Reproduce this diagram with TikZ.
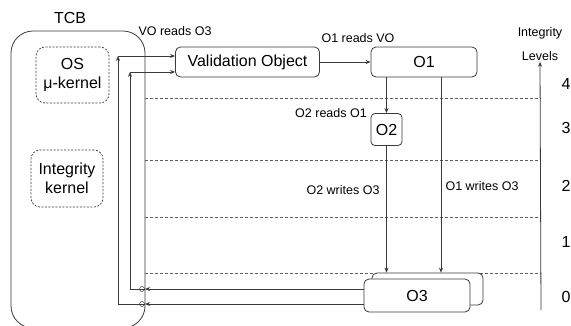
\documentclass[tikz,border=0pt]{standalone}
\usepackage{fontspec}
\setmainfont{Liberation Sans}
\usetikzlibrary{arrows.meta}
\definecolor{ln}{HTML}{3A3A3A}
\definecolor{dl}{HTML}{606060}
\begin{document}
\begin{tikzpicture}[x=1pt,y=-1pt,
  arr/.style={draw=ln,line width=0.8pt,-{Stealth[length=5pt,width=4pt]}},
  ln/.style={draw=ln,line width=0.8pt},
  obox/.style={draw=ln,line width=0.8pt,rounded corners=5pt,fill=white,inner sep=0pt,font=\fontsize{16}{18}\selectfont},
  kbox/.style={draw=ln,line width=0.7pt,dash pattern=on 2pt off 1.5pt,rounded corners=9pt,inner sep=0pt,align=center,font=\fontsize{16}{19}\selectfont},
  lab/.style={inner sep=1pt,font=\fontsize{12.5}{14}\selectfont},
  lvl/.style={inner sep=0pt,font=\fontsize{16}{18}\selectfont},
  lvline/.style={draw=dl,line width=0.6pt,dash pattern=on 3pt off 2pt}]
\useasboundingbox (0,0) rectangle (571,325);
\clip (0,0) rectangle (571,325);
% TCB
\draw[ln,rounded corners=22pt] (11,31) rectangle (145,328);
\node[inner sep=0pt,font=\fontsize{16}{18}\selectfont] (tcb) at (70,18) {TCB};
\node[kbox,minimum width=73pt,minimum height=56pt] (os) at (72.5,75) {OS\\μ-kernel};
\node[kbox,minimum width=72pt,minimum height=57pt] (ik) at (67,178.5) {Integrity\\kernel};
% level lines
\foreach \yy/\nm in {98/l4,160/l3,217/l2,273/l1}{
  \coordinate (\nm a) at (145,\yy);
  \coordinate (\nm b) at (541,\yy);
  \draw[lvline] (\nm a) -- (\nm b);
}
% objects
\node[obox,minimum width=144pt,minimum height=30pt] (vo) at (247.5,62) {Validation Object};
\node[obox,minimum width=106pt,minimum height=30pt] (o1) at (424,62) {O1};
\node[obox,rounded corners=4pt,minimum width=31pt,minimum height=32pt] (o2) at (386.5,129.5) {O2};
\node[obox,minimum width=111pt,minimum height=32pt] (o3b) at (427.5,289) {};
\node[obox,minimum width=106pt,minimum height=33pt] (o3f) at (417,295.5) {O3};
% labels
\node[lab] (l_vo) at (175,31) {VO reads O3};
\node[lab] (l_o1) at (358,38) {O1 reads VO};
\node[lab] (l_o2) at (331,113) {O2 reads O1};
\node[lab] (l_o2w) at (343,190) {O2 writes O3};
\node[lab] (l_o1w) at (482,186) {O1 writes O3};
\node[lab] (int) at (540,33) {Integrity};
\node[lab] (lev) at (540,56) {Levels};
\node[lvl] (n4) at (566,84) {4};
\node[lvl] (n3) at (566,128) {3};
\node[lvl] (n2) at (566,186) {2};
\node[lvl] (n1) at (566,242) {1};
\node[lvl] (n0) at (566,297) {0};
% integrity arrow
\coordinate (ilb) at (541,310);
\draw[arr] (ilb) -- (lev.south);
% connectors
\draw[arr] (vo.east) -- (o1.west);
\draw[arr] (o1.south -| o2.north) -- (o2.north);
\draw[arr] (o2.south) -- (o2.south |- o3b.north);
\draw[arr] ([xshift=17pt]o1.south) -- ([xshift=17pt]o1.south |- o3b.north);
% feedback O3 -> VO
\coordinate (b1) at (145,289);
\coordinate (b2) at (145,304);
\coordinate (c1) at (130,289);
\coordinate (c2) at (118,304);
\coordinate (t1) at (130,72);
\coordinate (t2) at (118,56);
\draw[arr] ([yshift=6.5pt]o3f.west) -- (b1);
\draw[arr] ([yshift=-8.5pt]o3f.west) -- (b2);
\draw[ln,line width=0.5pt] (142,289) circle (2.5pt);
\draw[ln,line width=0.5pt] (142,304) circle (2.5pt);
\draw[arr] (b1) -- (c1) -- (t1);
\draw[arr] (b2) -- (c2) -- (t2);
\draw[arr] (t1) -- (vo.west |- t1);
\draw[arr] (t2) -- (vo.west |- t2);
\end{tikzpicture}
\end{document}
